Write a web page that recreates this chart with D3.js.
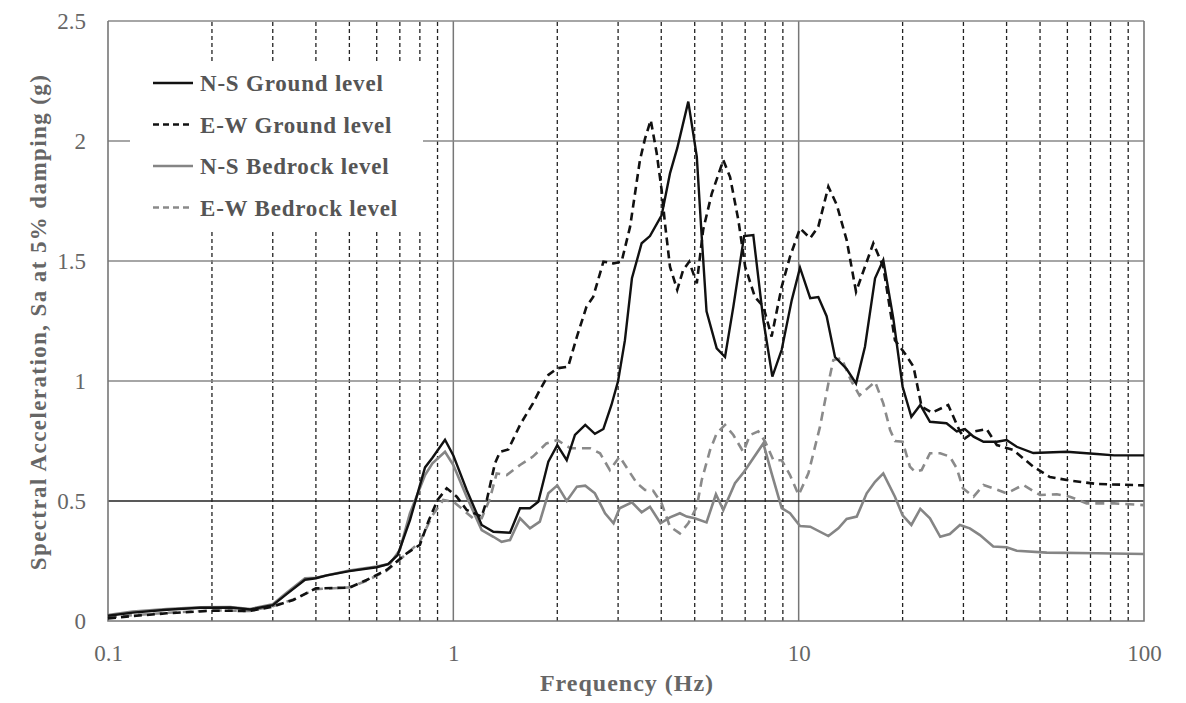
<!DOCTYPE html>
<html>
<head>
<meta charset="utf-8">
<script src="https://cdn.jsdelivr.net/npm/d3@7"></script>
<style>
  body { margin: 0; background: #fff; }
  svg { display: block; font-family: "Liberation Serif", "Times New Roman", serif; }
</style>
</head>
<body>
<svg id="chart" width="1186" height="703"></svg>
<script>
// Response spectra: [frequency (Hz), Sa (g)]
var nsGround = [
  [0.1,0.022],[0.118,0.035],[0.148,0.047],[0.185,0.055],[0.226,0.056],[0.258,0.048],
  [0.3,0.066],[0.329,0.112],[0.372,0.172],[0.4,0.178],[0.43,0.19],[0.5,0.208],
  [0.6,0.224],[0.647,0.237],[0.69,0.275],[0.749,0.42],[0.828,0.64],[0.87,0.68],
  [0.946,0.755],[1.0,0.69],[1.093,0.546],[1.208,0.40],[1.306,0.372],[1.459,0.368],
  [1.56,0.47],[1.667,0.47],[1.762,0.497],[1.884,0.664],[2.0,0.733],[2.13,0.67],
  [2.25,0.775],[2.41,0.817],[2.57,0.78],[2.72,0.80],[2.87,0.90],[3.0,1.0],
  [3.14,1.17],[3.29,1.428],[3.51,1.574],[3.71,1.604],[4.01,1.69],[4.24,1.865],
  [4.45,1.97],[4.79,2.164],[5.07,1.935],[5.24,1.60],[5.41,1.29],[5.79,1.136],
  [6.12,1.10],[6.47,1.31],[6.95,1.604],[7.39,1.608],[7.9,1.254],[8.39,1.018],
  [8.93,1.13],[9.55,1.337],[10.09,1.472],[10.8,1.345],[11.4,1.35],[12.05,1.27],
  [12.74,1.10],[13.77,1.05],[14.66,0.99],[15.56,1.143],[16.64,1.428],[17.58,1.504],
  [18.8,1.26],[20,0.976],[21.2,0.851],[22.5,0.90],[24.0,0.83],[26.8,0.824],
  [28.7,0.79],[30.3,0.80],[32.1,0.768],[34.3,0.747],[37.5,0.747],[40,0.754],
  [42.8,0.726],[47.8,0.70],[59.7,0.705],[73,0.696],[82,0.69],[100,0.69]
];

var ewGround = [
  [0.1,0.011],[0.118,0.021],[0.148,0.032],[0.2,0.043],[0.258,0.042],[0.3,0.06],
  [0.344,0.0875],[0.4,0.136],[0.5,0.139],[0.561,0.171],[0.641,0.2125],[0.733,0.282],
  [0.8,0.317],[0.846,0.414],[0.9,0.504],[0.957,0.553],[1.023,0.518],[1.093,0.4625],
  [1.208,0.435],[1.25,0.504],[1.32,0.657],[1.365,0.705],[1.443,0.715],[1.56,0.817],
  [1.70,0.907],[1.78,0.9625],[1.884,1.025],[2.0,1.053],[2.15,1.06],[2.28,1.185],
  [2.43,1.31],[2.54,1.35],[2.72,1.497],[2.91,1.49],[3.07,1.497],[3.25,1.643],
  [3.47,1.92],[3.59,2.01],[3.73,2.087],[3.88,1.95],[4.01,1.796],[4.10,1.657],
  [4.24,1.476],[4.45,1.38],[4.63,1.4625],[4.82,1.497],[5.07,1.407],[5.29,1.63],
  [5.6,1.78],[6.05,1.92],[6.33,1.85],[6.69,1.67],[7.0,1.476],[7.47,1.35],
  [7.9,1.31],[8.35,1.185],[8.93,1.393],[9.44,1.518],[10.09,1.636],[10.8,1.595],
  [11.4,1.643],[12.19,1.81],[12.9,1.733],[13.77,1.5875],[14.66,1.372],[15.56,1.476],
  [16.45,1.574],[17.58,1.476],[19.0,1.17],[20.3,1.115],[21.5,1.06],[22.7,0.893],
  [24.3,0.868],[27.1,0.90],[29.3,0.79],[30.3,0.761],[32.4,0.79],[35.0,0.80],
  [37.5,0.733],[41.8,0.7125],[47.8,0.643],[53.4,0.60],[61,0.585],[73,0.571],[100,0.565]
];

var nsBedrock = [
  [0.1,0.025],[0.118,0.039],[0.148,0.05],[0.185,0.057],[0.226,0.058],[0.258,0.05],
  [0.3,0.07],[0.329,0.118],[0.372,0.178],[0.4,0.18],[0.5,0.21],[0.6,0.227],
  [0.655,0.238],[0.7,0.296],[0.749,0.449],[0.828,0.608],[0.87,0.657],[0.946,0.705],
  [1.0,0.65],[1.093,0.518],[1.208,0.379],[1.306,0.351],[1.38,0.33],[1.459,0.3375],
  [1.56,0.428],[1.667,0.386],[1.78,0.414],[1.884,0.532],[2.0,0.565],[2.13,0.50],
  [2.28,0.56],[2.41,0.564],[2.57,0.532],[2.75,0.449],[2.91,0.407],[3.03,0.47],
  [3.29,0.494],[3.51,0.453],[3.71,0.476],[3.98,0.407],[4.24,0.432],[4.53,0.449],
  [4.74,0.435],[5.0,0.428],[5.41,0.411],[5.76,0.528],[6.05,0.4625],[6.54,0.574],
  [6.95,0.622],[7.9,0.74],[8.35,0.615],[8.93,0.47],[9.44,0.449],[10.09,0.396],
  [10.8,0.393],[12.19,0.354],[13.03,0.386],[13.77,0.425],[14.73,0.435],[15.74,0.532],
  [16.64,0.58],[17.58,0.615],[19.0,0.518],[20,0.44],[21.2,0.40],[22.5,0.467],
  [24.0,0.428],[25.7,0.351],[27.4,0.3625],[29.3,0.40],[31.3,0.386],[33.5,0.358],
  [36.6,0.31],[40,0.307],[42.8,0.293],[52.3,0.285],[73,0.282],[100,0.279]
];

var ewBedrock = [
  [0.1,0.015],[0.118,0.024],[0.148,0.034],[0.2,0.044],[0.258,0.042],[0.3,0.062],
  [0.344,0.09],[0.4,0.133],[0.5,0.14],[0.561,0.168],[0.641,0.21],[0.733,0.28],
  [0.8,0.33],[0.87,0.44],[0.935,0.504],[1.0,0.497],[1.07,0.4625],[1.14,0.428],
  [1.208,0.428],[1.277,0.511],[1.335,0.615],[1.427,0.608],[1.56,0.65],[1.70,0.685],
  [1.86,0.74],[2.0,0.754],[2.18,0.72],[2.49,0.72],[2.66,0.699],[2.84,0.629],
  [3.03,0.685],[3.21,0.629],[3.40,0.574],[3.59,0.546],[3.79,0.543],[4.01,0.49],
  [4.24,0.393],[4.53,0.365],[4.79,0.407],[5.07,0.476],[5.24,0.5875],[5.54,0.7125],
  [5.79,0.782],[6.12,0.817],[6.47,0.775],[6.91,0.705],[7.23,0.775],[7.64,0.79],
  [8.0,0.747],[8.45,0.67],[8.93,0.67],[9.44,0.608],[10.0,0.525],[10.67,0.615],
  [11.53,0.81],[12.19,0.99],[12.6,1.0875],[13.3,1.095],[14.2,1.0],[15.0,0.94],
  [16.64,0.997],[17.58,0.907],[18.4,0.796],[19.0,0.75],[20,0.747],[21.0,0.643],
  [21.7,0.622],[22.7,0.629],[24.0,0.699],[25.7,0.699],[27.4,0.685],[28.7,0.636],
  [29.9,0.553],[32.1,0.518],[34.3,0.567],[36.6,0.553],[40,0.532],[44.7,0.567],
  [50,0.525],[55.9,0.528],[61,0.518],[68.2,0.49],[82,0.49],[100,0.483]
];

var yTicks = [0, 0.5, 1, 1.5, 2, 2.5];
var xTicks = [0.1, 1, 10, 100];
var xTickLabels = ["0.1", "1", "10", "100"];
var minorFreqs = [0.2,0.3,0.4,0.5,0.6,0.7,0.8,0.9, 2,3,4,5,6,7,8,9, 20,30,40,50,60,70,80,90];

var series = [
  { name: "N-S Ground level",  data: nsGround,  color: "#111", width: 2.4, dash: null },
  { name: "E-W Ground level",  data: ewGround,  color: "#111", width: 2.6, dash: "8,5" },
  { name: "N-S Bedrock level", data: nsBedrock, color: "#858585", width: 2.6, dash: null },
  { name: "E-W Bedrock level", data: ewBedrock, color: "#8a8a8a", width: 2.6, dash: "9,6" }
];

var svg = d3.select("#chart");
var x = d3.scaleLog().domain([0.1, 100]).range([108, 1144]);
var y = d3.scaleLinear().domain([0, 2.5]).range([621, 21]);

// grid
var grid = svg.append("g");
grid.selectAll("line.minor")
  .data(minorFreqs)
  .enter().append("line")
  .attr("x1", d => x(d)).attr("x2", d => x(d))
  .attr("y1", y(0)).attr("y2", y(2.5))
  .attr("stroke", "#222").attr("stroke-width", 1.3)
  .attr("stroke-dasharray", "4,3");

grid.selectAll("line.major")
  .data([1, 10])
  .enter().append("line")
  .attr("x1", d => x(d)).attr("x2", d => x(d))
  .attr("y1", y(0)).attr("y2", y(2.5))
  .attr("stroke", "#777").attr("stroke-width", 1.5);

grid.selectAll("line.h")
  .data(yTicks.slice(1))
  .enter().append("line")
  .attr("x1", x(0.1)).attr("x2", x(100))
  .attr("y1", d => y(d)).attr("y2", d => y(d))
  .attr("stroke", d => d === 0.5 ? "#222" : "#888")
  .attr("stroke-width", 1.5);

// frame
svg.append("path")
  .attr("d", "M" + x(0.1) + "," + y(2.5) + "V" + y(0) + "H" + x(100) + "V" + y(2.5))
  .attr("fill", "none").attr("stroke", "#777").attr("stroke-width", 1.6);

// series
var line = d3.line().x(d => x(d[0])).y(d => y(d[1]));
svg.append("g").selectAll("path")
  .data(series.slice().reverse())
  .enter().append("path")
  .attr("d", d => line(d.data))
  .attr("fill", "none")
  .attr("stroke", d => d.color)
  .attr("stroke-width", d => d.width)
  .attr("stroke-dasharray", d => d.dash)
  .attr("stroke-linejoin", "miter");

// axes
var yAxis = svg.append("g")
  .attr("transform", "translate(" + x(0.1) + ",0)")
  .call(d3.axisLeft(y).tickValues(yTicks).tickSize(0).tickPadding(22).tickFormat(d3.format("")));
var xAxis = svg.append("g")
  .attr("transform", "translate(0," + y(0) + ")")
  .call(d3.axisBottom(x).tickValues(xTicks).tickSize(0).tickPadding(24)
    .tickFormat((d, i) => xTickLabels[i]));
[yAxis, xAxis].forEach(a => {
  a.select(".domain").remove();
  a.selectAll("text")
    .attr("fill", "#666")
    .style("font-family", "'Liberation Serif', serif")
    .style("font-size", "23px");
});

svg.append("text")
  .attr("x", 627).attr("y", 691)
  .attr("text-anchor", "middle")
  .attr("fill", "#666")
  .style("font-weight", "bold").style("font-size", "24px")
  .style("letter-spacing", "1px")
  .text("Frequency (Hz)");

svg.append("text")
  .attr("transform", "translate(46,322) rotate(-90)")
  .attr("text-anchor", "middle")
  .attr("fill", "#666")
  .style("font-weight", "bold").style("font-size", "23px")
  .style("letter-spacing", "1.4px")
  .text("Spectral Acceleration, Sa at 5% damping (g)");

// legend
var legend = svg.append("g");
legend.append("rect")
  .attr("x", 130).attr("y", 63).attr("width", 293).attr("height", 167)
  .attr("fill", "#fff");
var items = legend.selectAll("g.item")
  .data(series)
  .enter().append("g")
  .attr("transform", (d, i) => "translate(153," + (83 + i * 41.5) + ")");
items.append("line")
  .attr("x1", 0).attr("x2", 40).attr("y1", 0).attr("y2", 0)
  .attr("stroke", d => d.color)
  .attr("stroke-width", d => d.width)
  .attr("stroke-dasharray", d => d.dash ? "6,4" : null);
items.append("text")
  .attr("x", 47).attr("y", 8)
  .attr("fill", "#555")
  .style("font-weight", "bold").style("font-size", "23px")
  .style("letter-spacing", "0.8px")
  .text(d => d.name);
</script>
</body>
</html>
